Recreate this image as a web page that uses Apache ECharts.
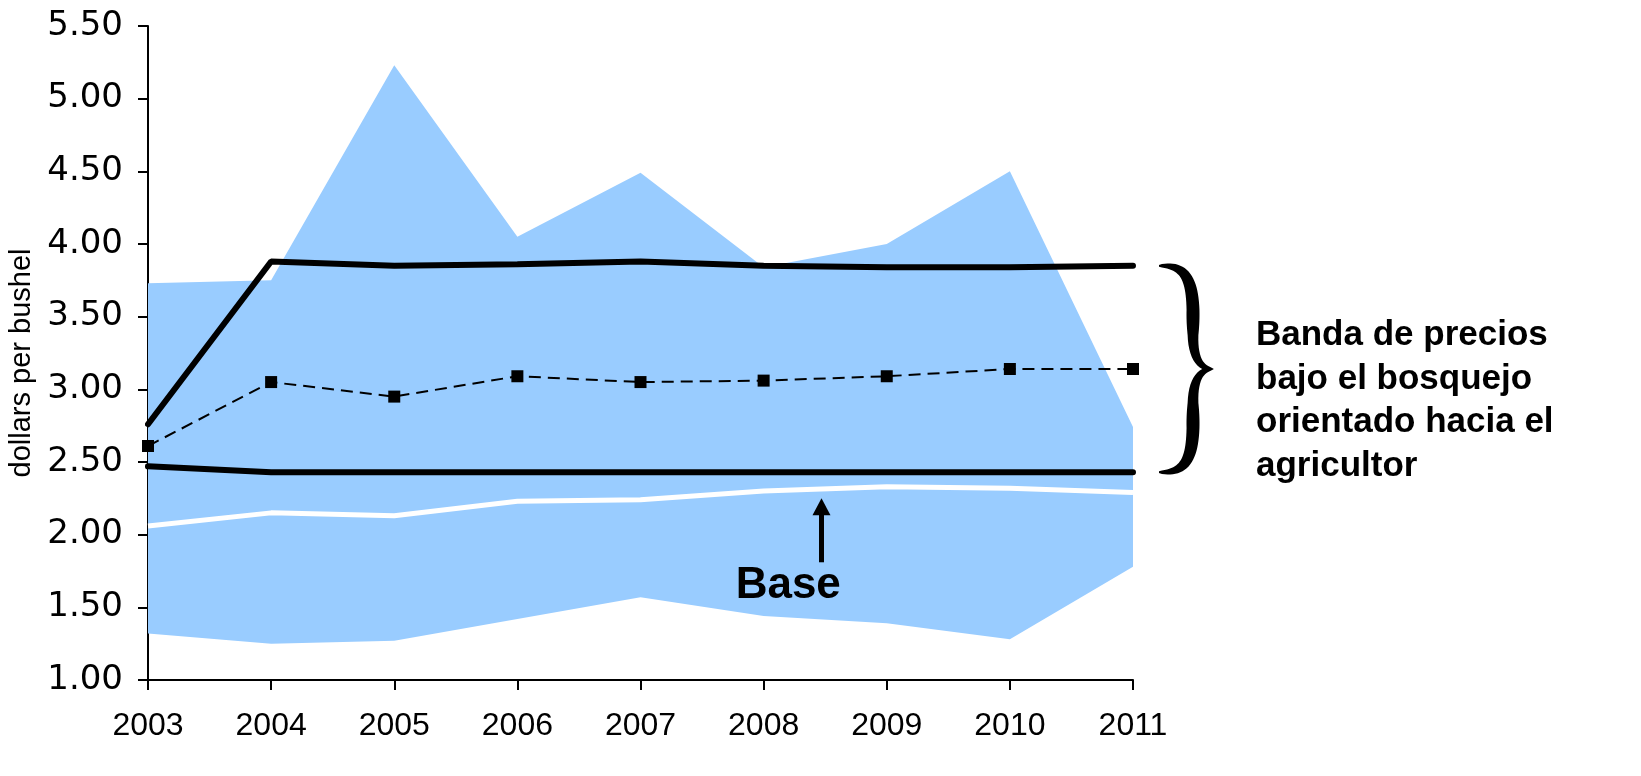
<!DOCTYPE html>
<html><head><meta charset="utf-8">
<script src="https://cdn.jsdelivr.net/npm/echarts@6/dist/echarts.min.js"></script>
<style>html,body{margin:0;padding:0;background:#fff}#c{width:1641px;height:776px}</style>
</head><body><div id="c"></div>
<script>
const years = ['2003','2004','2005','2006','2007','2008','2009','2010','2011'];
const bandLow = [1.32,1.25,1.27,1.42,1.57,1.44,1.39,1.28,1.78];
const bandHigh = [3.73,3.75,5.23,4.05,4.49,3.84,4.00,4.50,2.74];
const baseline = [2.06,2.15,2.13,2.23,2.24,2.30,2.33,2.32,2.29];
const lowerBound = [2.47,2.43,2.43,2.43,2.43,2.43,2.43,2.43,2.43];
const upperBound = [2.76,3.88,3.85,3.86,3.88,3.85,3.84,3.84,3.85];
const midPrice = [2.61,3.05,2.95,3.09,3.05,3.06,3.09,3.14,3.14];
const yTicks = {min:1, max:5.5, interval:0.5};
const yName = 'dollars per bushel';
const noteText = 'Banda de precios\nbajo el bosquejo\norientado hacia el\nagricultor';
const baseText = 'Base';
const FONT = 'Liberation Sans, Arial, sans-serif';

const chart = echarts.init(document.getElementById('c'), null, {renderer:'canvas'});
const option = {
  animation:false,
  backgroundColor:'#fff',
  grid:{left:148, right:508, top:26, bottom:96},
  xAxis:{
    type:'category', data:years, boundaryGap:false,
    axisLine:{show:true, lineStyle:{color:'#000', width:2}},
    axisTick:{show:true, alignWithLabel:true, length:10, lineStyle:{color:'#000', width:2}},
    axisLabel:{color:'#000', fontSize:32, fontFamily:FONT, margin:30},
    splitLine:{show:false}
  },
  yAxis:{
    type:'value', min:yTicks.min, max:yTicks.max, interval:yTicks.interval,
    axisLine:{show:true, lineStyle:{color:'#000', width:2}},
    axisTick:{show:true, length:10, lineStyle:{color:'#000', width:2}},
    axisLabel:{color:'#000', fontSize:34, fontFamily:'DejaVu Sans, sans-serif', margin:25, formatter:v=>v.toFixed(2)},
    splitLine:{show:false}
  },
  series:[
    {type:'line', data:bandLow, stack:'band', symbol:'none', lineStyle:{width:0}, areaStyle:{opacity:0}, silent:true, z:1},
    {type:'line', data:bandHigh.map((h,i)=>+(h-bandLow[i]).toFixed(3)), stack:'band', symbol:'none', lineStyle:{width:0}, areaStyle:{color:'#99CCFF', opacity:1}, silent:true, z:1},
    {type:'line', data:baseline, symbol:'none', lineStyle:{color:'#fff', width:5}, z:3},
    {type:'line', data:lowerBound, symbol:'none', lineStyle:{color:'#000', width:6, cap:'round'}, z:4},
    {type:'line', data:upperBound, symbol:'none', lineStyle:{color:'#000', width:6, cap:'round'}, z:4},
    {type:'line', data:midPrice, symbol:'rect', symbolSize:12, itemStyle:{color:'#000'}, lineStyle:{color:'#000', width:2, type:[12,7]}, z:5}
  ]
};
chart.setOption(option);

function px(i, v){ return chart.convertToPixel({gridIndex:0}, [i, v]); }
function pxf(f, v){ const i=Math.floor(f), t=f-i; const a=px(i,v), b=px(Math.min(i+1,years.length-1),v); return [a[0]+(b[0]-a[0])*t, a[1]]; }

const last = years.length-1;
const pTop = px(last, upperBound[last]);
const pBot = px(last, lowerBound[last]);
const x0 = pTop[0]+26, yT = pTop[1], yB = pBot[1], yM = (yT+yB)/2;
const xv = x0+34, xt = x0+54;

// curly brace: centerline sampled, then filled outline with variable width
function cubic(p0,p1,p2,p3,n){const out=[];for(let k=0;k<n;k++){const t=k/n,u=1-t;out.push([u*u*u*p0[0]+3*u*u*t*p1[0]+3*u*t*t*p2[0]+t*t*t*p3[0], u*u*u*p0[1]+3*u*u*t*p1[1]+3*u*t*t*p2[1]+t*t*t*p3[1]]);}return out;}
function lin(a,b,n){const out=[];for(let k=0;k<n;k++){const t=k/n;out.push([a[0]+(b[0]-a[0])*t,a[1]+(b[1]-a[1])*t]);}return out;}
let cl = [];
cl = cl.concat(cubic([x0,yT],[x0+24,yT-1],[xv-1,yT+10],[xv,yT+44],24));
cl = cl.concat(lin([xv,yT+44],[xv,yM-34],16));
cl = cl.concat(cubic([xv,yM-34],[xv,yM-10],[xv+8,yM],[xt,yM],14));
cl = cl.concat(cubic([xt,yM],[xv+8,yM],[xv,yM+10],[xv,yM+34],14));
cl = cl.concat(lin([xv,yM+34],[xv,yB-44],16));
cl = cl.concat(cubic([xv,yB-44],[xv-1,yB-10],[x0+24,yB+1],[x0,yB],24));
cl.push([x0,yB]);
const L=[],R=[];
for(let k=0;k<cl.length;k++){
  const a=cl[Math.max(0,k-1)], b=cl[Math.min(cl.length-1,k+1)];
  let dx=b[0]-a[0], dy=b[1]-a[1]; const len=Math.hypot(dx,dy)||1; dx/=len; dy/=len;
  const s=k/(cl.length-1);
  const hw = 0.9 + 5.6*Math.pow(Math.abs(Math.sin(2*Math.PI*s)),0.7);
  L.push([cl[k][0]-dy*hw, cl[k][1]+dx*hw]);
  R.push([cl[k][0]+dy*hw, cl[k][1]-dx*hw]);
}
const bracePts = L.concat(R.reverse());

const arrowBottom = pxf(5.47, 1.81);
const arrowTip = pxf(5.47, 2.25);
const baseC = pxf(5.2, 1.65);
const nameX = 22, nameY = (px(0, yTicks.min)[1] + px(0, yTicks.max)[1])/2 + 10;

chart.setOption({graphic:[
  {type:'polygon', shape:{points:bracePts}, style:{fill:'#000'}, z:10},
  {type:'text', x:pTop[0]+123, y:yT+48, style:{text:noteText, fill:'#000', font:`bold 35px ${FONT}`, lineHeight:43.5, textVerticalAlign:'top'}, z:10},
  {type:'line', shape:{x1:arrowBottom[0], y1:arrowBottom[1], x2:arrowTip[0], y2:arrowTip[1]+14}, style:{stroke:'#000', lineWidth:5}, z:10},
  {type:'polygon', shape:{points:[[arrowTip[0],arrowTip[1]],[arrowTip[0]-9,arrowTip[1]+17],[arrowTip[0]+9,arrowTip[1]+17]]}, style:{fill:'#000'}, z:10},
  {type:'text', x:baseC[0], y:baseC[1], style:{text:baseText, fill:'#000', font:`bold 44px ${FONT}`, textAlign:'center', textVerticalAlign:'middle'}, z:10},
  {type:'text', x:nameX, y:nameY, rotation:Math.PI/2, style:{text:yName, fill:'#000', font:`29px ${FONT}`, textAlign:'center', textVerticalAlign:'middle'}, z:10}
]});
</script></body></html>
